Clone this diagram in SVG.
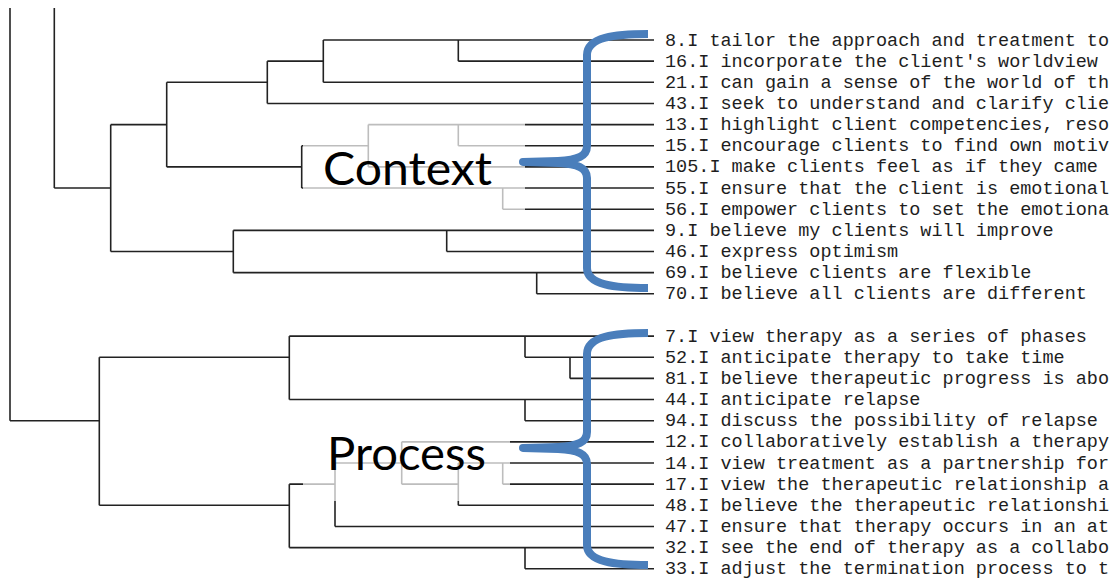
<svg xmlns="http://www.w3.org/2000/svg" width="1120" height="581" viewBox="0 0 1120 581">
  <style>
    .ln { fill: none; stroke: #222; stroke-width: 1.6; }
    .leaf { font-family: "Liberation Mono", "Courier New", monospace; font-size: 18.5px; fill: #1e1e1e; }
    .veil { fill: #fff; fill-opacity: 0.7; }
    .tag { font-family: Lato, "Open Sans", "Liberation Sans", sans-serif; font-size: 46px; fill: #000; }
    .brace { fill: none; stroke: #4a7ebb; stroke-width: 8; stroke-linejoin: round; stroke-linecap: butt; }
  </style>

  <!-- dendrogram branches -->
  <g id="connectors" class="ln">
    <!-- vertical joins -->
    <path d="M10,8 V420.7"/>
    <path d="M54.3,8 V188.05"/>
    <path d="M110.7,124.6 V251.5"/>
    <path d="M166.7,82.3 V166.9"/>
    <path d="M267.3,61.15 V103.45"/>
    <path d="M323.3,40 V82.3"/>
    <path d="M458.3,40 V61.15"/>
    <path d="M301.7,145.75 V188.05"/>
    <path d="M368.3,124.6 V166.9"/>
    <path d="M458.3,124.6 V145.75"/>
    <path d="M502.7,188.05 V209.2"/>
    <path d="M233.3,230.35 V272.65"/>
    <path d="M446.7,230.35 V251.5"/>
    <path d="M536.7,272.65 V293.8"/>
    <path d="M99.3,357.25 V505.3"/>
    <path d="M289.3,336.1 V399.55"/>
    <path d="M525,336.1 V357.25"/>
    <path d="M570,357.25 V378.4"/>
    <path d="M525,399.55 V420.7"/>
    <path d="M289.3,484.15 V547.6"/>
    <path d="M335,463 V526.45"/>
    <path d="M401.7,441.85 V484.15"/>
    <path d="M458.3,463 V505.3"/>
    <path d="M502.7,463 V484.15"/>
    <path d="M525,547.6 V568.75"/>
    <!-- horizontal runs -->
    <path d="M54.3,188.05 H110.7"/>
    <path d="M110.7,124.6 H166.7"/>
    <path d="M110.7,251.5 H233.3"/>
    <path d="M166.7,82.3 H267.3"/>
    <path d="M166.7,166.9 H301.7"/>
    <path d="M267.3,61.15 H323.3"/>
    <path d="M323.3,40 H654"/>
    <path d="M458.3,61.15 H654"/>
    <path d="M323.3,82.3 H654"/>
    <path d="M267.3,103.45 H654"/>
    <path d="M301.7,145.75 H368.3"/>
    <path d="M368.3,124.6 H654"/>
    <path d="M458.3,145.75 H654"/>
    <path d="M368.3,166.9 H654"/>
    <path d="M301.7,188.05 H654"/>
    <path d="M502.7,209.2 H654"/>
    <path d="M233.3,230.35 H654"/>
    <path d="M446.7,251.5 H654"/>
    <path d="M233.3,272.65 H654"/>
    <path d="M536.7,293.8 H654"/>
    <path d="M10,420.7 H99.3"/>
    <path d="M99.3,357.25 H289.3"/>
    <path d="M99.3,505.3 H289.3"/>
    <path d="M289.3,336.1 H654"/>
    <path d="M525,357.25 H654"/>
    <path d="M570,378.4 H654"/>
    <path d="M289.3,399.55 H654"/>
    <path d="M525,420.7 H654"/>
    <path d="M289.3,484.15 H335"/>
    <path d="M335,526.45 H654"/>
    <path d="M335,463 H401.7"/>
    <path d="M401.7,441.85 H654"/>
    <path d="M401.7,484.15 H458.3"/>
    <path d="M458.3,505.3 H654"/>
    <path d="M458.3,463 H654"/>
    <path d="M502.7,484.15 H654"/>
    <path d="M289.3,547.6 H654"/>
    <path d="M525,568.75 H654"/>
  </g>

  <!-- item labels -->
  <g id="item-8"><text class="leaf" x="665" y="45.5">8.I tailor the approach and treatment to</text></g>
  <g id="item-16"><text class="leaf" x="665" y="66.65">16.I incorporate the client's worldview</text></g>
  <g id="item-21"><text class="leaf" x="665" y="87.8">21.I can gain a sense of the world of th</text></g>
  <g id="item-43"><text class="leaf" x="665" y="108.95">43.I seek to understand and clarify clie</text></g>
  <g id="item-13"><text class="leaf" x="665" y="130.1">13.I highlight client competencies, reso</text></g>
  <g id="item-15"><text class="leaf" x="665" y="151.25">15.I encourage clients to find own motiv</text></g>
  <g id="item-105"><text class="leaf" x="665" y="172.4">105.I make clients feel as if they came</text></g>
  <g id="item-55"><text class="leaf" x="665" y="193.55">55.I ensure that the client is emotional</text></g>
  <g id="item-56"><text class="leaf" x="665" y="214.7">56.I empower clients to set the emotiona</text></g>
  <g id="item-9"><text class="leaf" x="665" y="235.85">9.I believe my clients will improve</text></g>
  <g id="item-46"><text class="leaf" x="665" y="257">46.I express optimism</text></g>
  <g id="item-69"><text class="leaf" x="665" y="278.15">69.I believe clients are flexible</text></g>
  <g id="item-70"><text class="leaf" x="665" y="299.3">70.I believe all clients are different</text></g>
  <g id="item-7"><text class="leaf" x="665" y="341.6">7.I view therapy as a series of phases</text></g>
  <g id="item-52"><text class="leaf" x="665" y="362.75">52.I anticipate therapy to take time</text></g>
  <g id="item-81"><text class="leaf" x="665" y="383.9">81.I believe therapeutic progress is abo</text></g>
  <g id="item-44"><text class="leaf" x="665" y="405.05">44.I anticipate relapse</text></g>
  <g id="item-94"><text class="leaf" x="665" y="426.2">94.I discuss the possibility of relapse</text></g>
  <g id="item-12"><text class="leaf" x="665" y="447.35">12.I collaboratively establish a therapy</text></g>
  <g id="item-14"><text class="leaf" x="665" y="468.5">14.I view treatment as a partnership for</text></g>
  <g id="item-17"><text class="leaf" x="665" y="489.65">17.I view the therapeutic relationship a</text></g>
  <g id="item-48"><text class="leaf" x="665" y="510.8">48.I believe the therapeutic relationshi</text></g>
  <g id="item-47"><text class="leaf" x="665" y="531.95">47.I ensure that therapy occurs in an at</text></g>
  <g id="item-32"><text class="leaf" x="665" y="553.1">32.I see the end of therapy as a collabo</text></g>
  <g id="item-33"><text class="leaf" x="665" y="574.25">33.I adjust the termination process to t</text></g>

  <!-- cluster annotations: translucent label box, name and brace -->
  <g id="cluster-context">
    <rect class="veil" x="303" y="113" width="222" height="105"/>
    <text class="tag" x="323" y="185" textLength="169" lengthAdjust="spacingAndGlyphs">Context</text>
    <path class="brace" d="M648,34 C615,34 587,37 587,55 L587,146 C587,156 578,160 558,161 L523,162 L558,163 C578,164 587,168 587,178 L587,268 C587,285 615,288 648,288"/>
  </g>
  <g id="cluster-process">
    <rect class="veil" x="303" y="430" width="207" height="71"/>
    <text class="tag" x="327" y="470" textLength="159" lengthAdjust="spacingAndGlyphs">Process</text>
    <path class="brace" d="M648,333 C615,333 587,336 587,354 L587,432 C587,442 578,446 558,447 L523,448 L558,449 C578,450 587,454 587,464 L587,545 C587,562 615,565 648,565"/>
  </g>
</svg>
